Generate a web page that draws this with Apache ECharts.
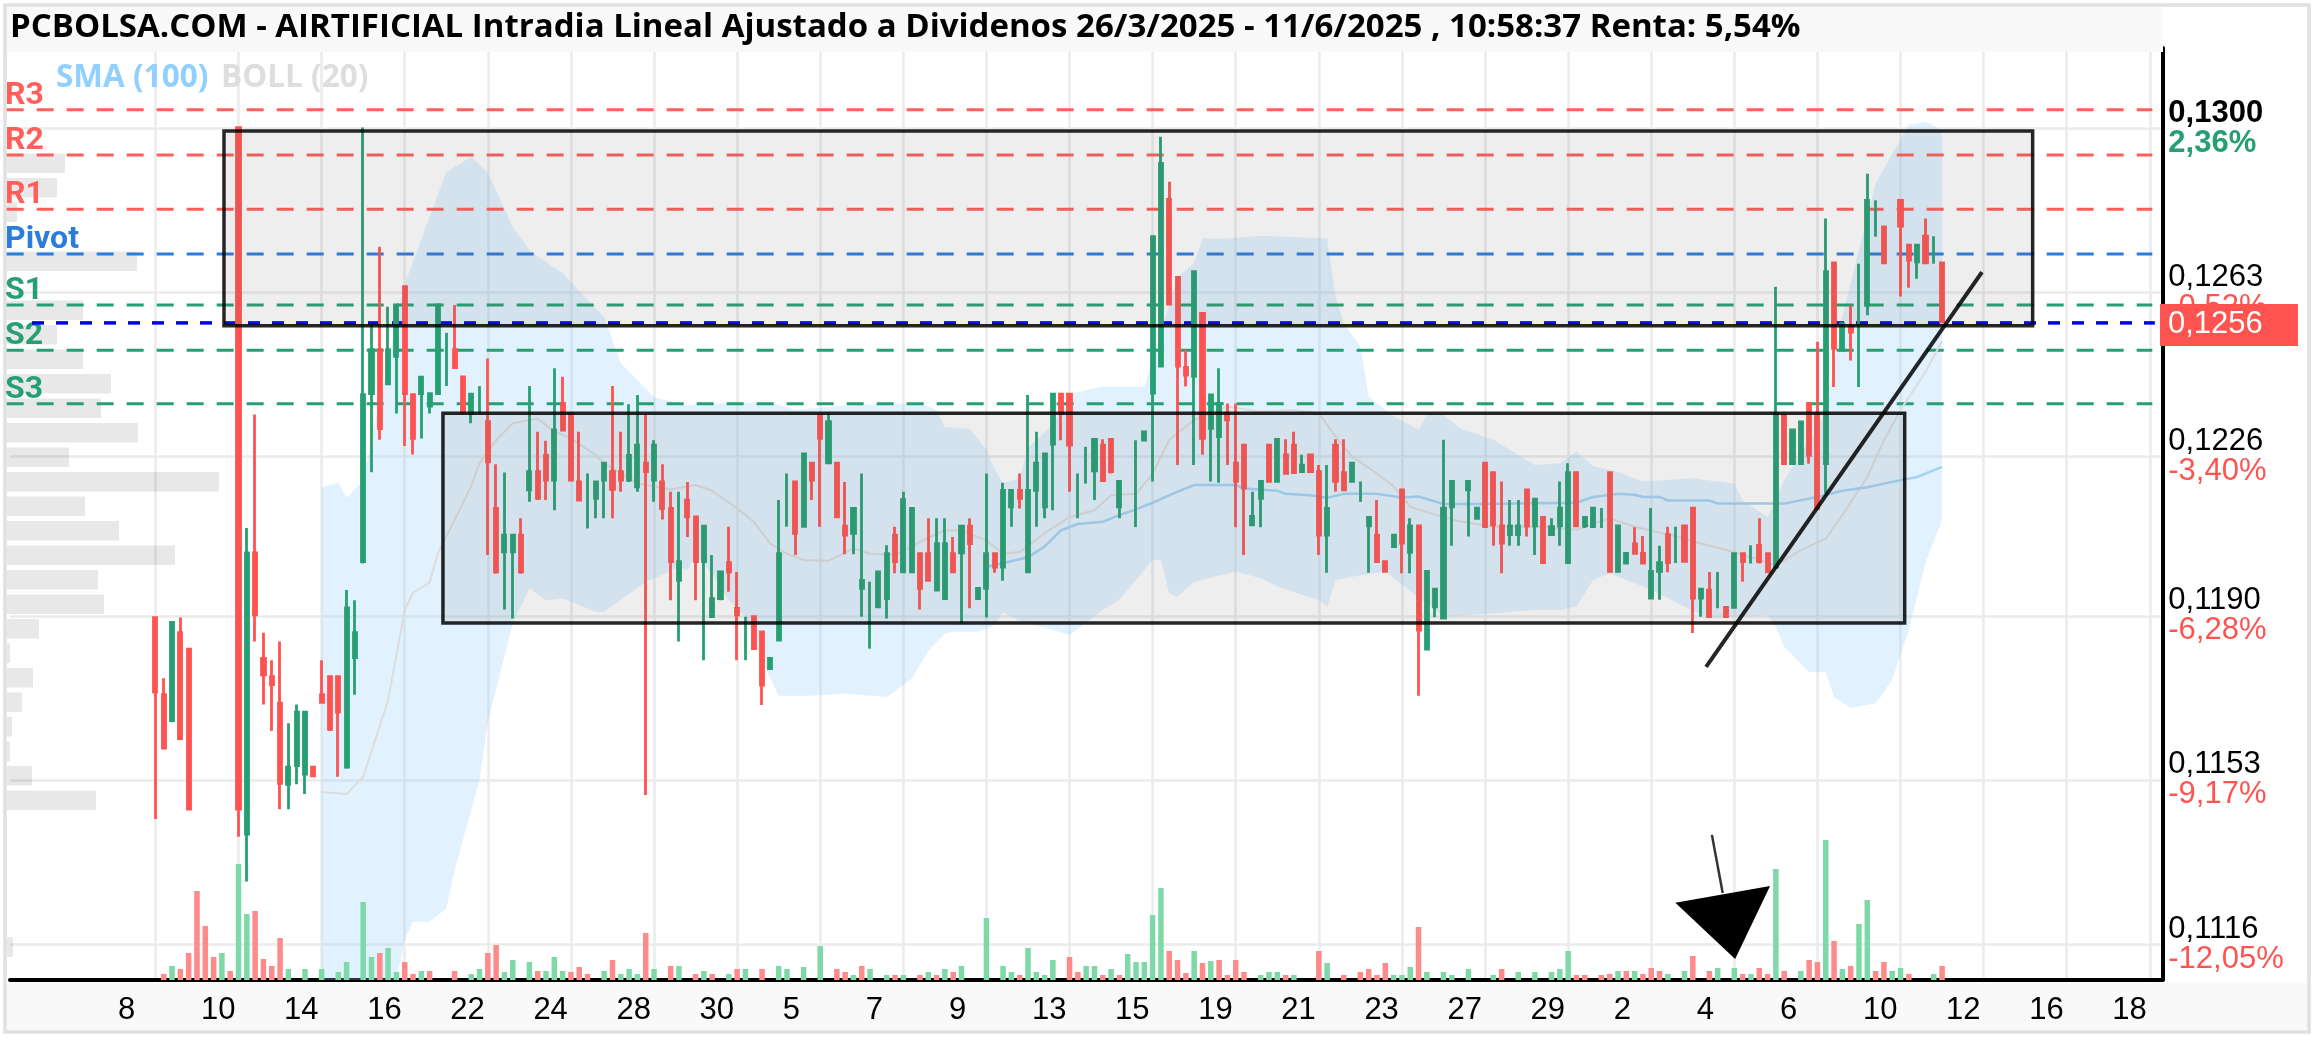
<!DOCTYPE html>
<html>
<head>
<meta charset="utf-8">
<title>AIRTIFICIAL</title>
<script src="https://cdn.jsdelivr.net/npm/echarts@6/dist/echarts.min.js"></script>
<style>
html,body{margin:0;padding:0;background:#fff;}
#main{width:2315px;height:1040px;}
</style>
</head>
<body>
<div id="main"></div>
<script>
// precios en diezmilesimas (1263 = 0,1263)
var slotCount = 259;
var dayLabels = ['8','10','14','16','22','24','28','30','5','7','9','13','15','19','21','23','27','29','2','4','6','10','12','16','18'];

var priceTicks = [1300,1263,1226,1190,1153,1116];
var priceLabels = ['0,1300','0,1263','0,1226','0,1190','0,1153','0,1116'];
var pctLabels = ['2,36%','-0,52%','-3,40%','-6,28%','-9,17%','-12,05%'];
var lastPrice = 1255.6;
var lastPriceLabel = '0,1256';

var candleSlots = [17,18,19,20,21,
27,28,29,30,31,32,33,34,35,36,
37,38,39,40,41,42,43,44,45,46,
47,48,49,50,51,52,53,54,55,56,
57,58,59,60,61,62,63,64,65,66,
67,68,69,70,71,72,73,74,75,76,
77,78,79,80,81,82,83,84,85,86,
87,88,89,90,91,92,93,94,95,96,
97,98,99,100,101,102,103,104,105,106,
107,108,109,110,111,112,113,114,115,116,
117,118,119,120,121,122,123,124,125,126,
127,128,129,130,131,132,133,135,136,137,
138,139,140,141,142,143,144,145,146,147,
148,149,150,151,152,153,154,155,156,157,
158,159,160,161,162,163,164,165,166,167,
168,169,170,171,172,173,175,176,177,178,
179,180,181,182,183,184,185,186,187,188,
189,190,191,192,193,194,195,196,197,198,
199,200,201,202,203,204,205,206,207,208,
209,210,211,212,213,214,215,216,217,218,
219,220,221,222,223,224,225,227,228,229,
230,231,232];
var opens = [1189.6,1172.2,1166.4,1186.2,1182.5,
1300.1,1140.8,1204.2,1180.4,1176.3,1170.3,1152,1156.2,1154.3,1155.9,
1172.2,1176.3,1176.3,1155.9,1180.6,1202.2,1240.1,1250,1242.3,1248.5,
1264.2,1239.9,1240.1,1237.3,1240.1,1247,1250,1243.9,1235.6,1238,
1233.8,1214.2,1204.4,1204.4,1208.2,1218.4,1222.5,1226.2,1220.6,1237.9,
1235.6,1220.2,1216,1216.5,1220.6,1222.5,1222.5,1220.6,1219.1,1224.4,
1220.6,1220.2,1214.2,1198,1216.1,1212.3,1202.2,1189.8,1193.9,1202,
1191.7,1185,1189.8,1186.4,1178.1,1184.5,1215,1220.2,1210.2,1224.4,
1235.3,1224.5,1224.4,1210.2,1208.6,1196.2,1190,1192,1193.9,1208.2,
1199.9,1199.9,1204,1204,1195.8,1193.9,1204,1204.2,1210.2,1193.9,
1196.2,1204,1201,1214.6,1218.3,1199.9,1218.3,1214.6,1228.7,1240,
1240,1216,1224,1222.7,1228.5,1229.8,1214.6,1220,1229.6,1240.2,
1246.3,1283.9,1266.3,1246,1244,1258.2,1232.3,1230.4,1235.7,1224.4,
1228.5,1210.5,1216.5,1228.5,1220.3,1226.3,1228.5,1222.5,1226.3,1222.5,
1208.2,1228.5,1222.3,1220.3,1218,1210.3,1208.2,1202.2,1205.6,1218.4,
1204.3,1210.3,1182.5,1192,1189.5,1214.6,1218.4,1212,1224.4,1222.3,
1210.3,1208.3,1208.3,1218.4,1210.3,1212.2,1208.3,1210.3,1202,1222.3,
1210.3,1210.1,1212,1222.3,1200,1201.9,1206.2,1204.1,1194,1200,
1208.3,1206,1210.3,1214.3,1194,1195.8,1195,1191.9,1191.9,1204,
1203.5,1205.9,1204,1201,1235.2,1224.3,1224.3,1237.9,1235.6,1224.3,
1269.6,1249.9,1255.2,1255,1260,1279,1277.7,1283.7,1273.6,1269.8,
1275.6,1272,1269.6];
var closes = [1172.8,1160.2,1188.5,1162.3,1146.4,
1146.4,1204.2,1190.2,1176.7,1174.5,1152.2,1155.9,1168.3,1168.3,1153.9,
1170.5,1164.4,1168.3,1191.8,1186.2,1239.9,1250,1232.2,1250,1260.1,
1240.1,1230,1243.8,1240.1,1260.1,1247.1,1246,1236,1240,1238.1,
1224.7,1199.9,1208.2,1208.2,1199.9,1222.5,1216.5,1220.6,1231.9,1231.9,
1220.6,1216.1,1216.1,1220.2,1224.4,1218.5,1220.6,1226.2,1228.5,1222.5,
1228.5,1214.2,1202.2,1202.2,1212.3,1202.2,1210.2,1193.9,1199.9,1199.9,
1190.2,1185.1,1182.6,1174.4,1180.4,1204,1215.1,1208.6,1226.5,1220.6,
1230,1233.8,1212.3,1208.2,1214.2,1198,1190.1,1199.9,1204,1202.2,
1216.2,1214.2,1196.2,1198,1206.3,1206.3,1199.9,1210.2,1206.3,1196.2,
1204,1201,1218.3,1218.3,1216.5,1218.3,1224.4,1226.5,1240,1235.6,
1228.5,1216.1,1224.1,1229.8,1220.5,1222.5,1220.3,1220.1,1231.5,1275.5,
1292,1260.3,1246.3,1244.3,1267.6,1230,1239.8,1237.9,1234.2,1220.3,
1218.8,1212.4,1220.3,1220.3,1229.8,1222.1,1222.3,1224,1222.5,1208.2,
1214.2,1220.3,1218.4,1224.4,1218.1,1212.2,1202.2,1200,1208.2,1206.4,
1210.3,1186.8,1200,1196,1214.3,1220.3,1220.3,1214.3,1210.1,1210.5,
1206.4,1210.3,1210.3,1210.3,1216.3,1202,1210.1,1214.3,1222.3,1210.3,
1212.2,1214.3,1212.1,1200,1210.3,1204.1,1204.1,1201.9,1200,1202,
1202,1206.1,1202.3,1194,1196,1189.8,1195.1,1189.8,1204,1202.2,
1203.6,1202.2,1199.9,1235.6,1224.3,1231.9,1233.7,1226.2,1214.2,1267.6,
1250.3,1255.9,1254,1255.1,1283.7,1279.1,1269.6,1277.9,1270.2,1273.6,
1269.6,1272.1,1256.3];
var lows = [1144.2,1159.9,1166,1162,1146.2,
1140.2,1130.1,1184.2,1170,1164,1146.4,1146.4,1152,1149.8,1153.9,
1170.5,1164,1153.7,1155.5,1172.2,1201.8,1222.4,1229.7,1242,1235.6,
1228.3,1226.4,1230,1235.6,1240,1241.8,1245.8,1235.6,1233.4,1235.6,
1203.7,1199.5,1191.4,1189.4,1199.5,1215.7,1216.1,1216.1,1213.8,1231.7,
1220.6,1216.1,1209.7,1212,1212,1212,1218,1220.2,1218,1149.6,
1215.7,1211.7,1193.5,1184.2,1207.8,1193.5,1180,1189.7,1193.5,1195.4,
1180,1180,1182.5,1169.9,1178,1184.5,1210.1,1203.7,1210,1216.1,
1210.1,1224.4,1212,1203.9,1203.9,1189.8,1182.6,1191.8,1189.4,1199.6,
1199.7,1199.7,1191.4,1197.8,1195.6,1193.7,1199.7,1188.3,1191.7,1193.7,
1189.6,1199.7,1197.9,1210.1,1214.2,1199.7,1210.1,1212,1213.8,1229.6,
1218,1212,1219.8,1216.1,1220.3,1222.1,1212,1210,1229.4,1220.3,
1246,1260,1224,1241.7,1224,1226.3,1220.3,1220,1224,1210,
1203.7,1210.2,1210,1220.1,1220.1,1222,1222.1,1222.3,1222.3,1203.7,
1199.7,1218,1218.2,1220.1,1215.7,1199.7,1202,1199.8,1205.4,1199.6,
1199.6,1172,1182.3,1189.7,1189.3,1205.8,1207.9,1211.8,1209.9,1205.8,
1199.6,1205.8,1205.8,1207.9,1203.7,1201.8,1208,1205.8,1201.8,1210.1,
1209.8,1209.9,1209.8,1199.8,1199.8,1201.7,1204,1201.7,1193.8,1193.6,
1199.8,1201.9,1202.1,1186.1,1189.8,1189.6,1191.7,1189.6,1191.7,1197.7,
1201.8,1201.8,1199.7,1200.8,1224,1224,1224,1224.3,1214,1217.6,
1241.6,1249.7,1247.6,1241.6,1257.8,1275.5,1269.4,1262,1264,1266,
1269.4,1269.4,1256.1];
var highs = [1189.6,1175.9,1188.5,1189.6,1182.5,
1300.1,1209.8,1235.4,1186.2,1180,1184.2,1165.8,1170,1168.3,1155.9,
1180,1176.3,1176.3,1195.8,1193.5,1300.1,1255.8,1273.2,1259.7,1260.1,
1264.2,1239.9,1243.8,1240.1,1260.1,1253.8,1260.1,1243.9,1240,1241.8,
1248,1224.2,1222.3,1208.2,1212,1241.8,1231.5,1229.5,1245.8,1243.9,
1235.6,1231.5,1222.1,1220.2,1224.4,1241.8,1231.5,1237.7,1239.8,1235.6,
1229.6,1224.2,1218,1218,1220.2,1212.3,1210.2,1203.7,1199.9,1210.1,
1199.9,1189.8,1189.8,1186.4,1180.4,1216.1,1222.1,1220.2,1226.5,1224.4,
1235.6,1235.6,1224.4,1220.2,1214.2,1222.1,1197.7,1199.9,1205.9,1210.1,
1218,1214.2,1204,1212,1212,1212,1207.8,1210.2,1212,1196.2,
1222.1,1204,1220,1218.3,1222.1,1239.8,1231.5,1226.5,1240,1240,
1240,1222.1,1228.1,1229.8,1229.8,1229.8,1220.3,1229.6,1231.7,1275.5,
1298,1287.9,1266.3,1250,1267.6,1258.2,1239.8,1245.8,1237.9,1237.9,
1228.5,1218,1220.3,1228.5,1229.8,1229.8,1231.5,1226.3,1226.3,1224,
1224,1229.8,1229.8,1224.4,1220.3,1212.2,1216.1,1202.2,1208.3,1218.4,
1212,1210.3,1200,1196,1229.7,1220.3,1220.3,1214.3,1224.4,1222.3,
1220.3,1216.1,1216.1,1218.4,1216.3,1212.2,1212,1220.3,1224.4,1222.3,
1212.2,1214.3,1214.3,1222.3,1210.3,1204.1,1210,1208,1214.3,1205.8,
1210.1,1210.1,1210.3,1214.3,1196,1199.9,1199.9,1191.9,1204,1204,
1205.9,1212,1204,1264.2,1235.2,1231.9,1233.7,1237.9,1251.8,1279.6,
1269.6,1255.9,1260,1269.4,1289.7,1283.7,1277.7,1283.7,1273.6,1273.6,
1279.6,1275.6,1269.6];

// volumen, en unidades de lectura del grafico
var volUpSlots = [19,25,27,28,33,35,37,39,40,42,43,45,46,49,55,56,59,60,62,64,65,66,71,73,74,75,77,80,83,86,88,92,93,95,97,101,103,105,107,110,112,114,117,119,120,122,123,124,125,129,130,132,134,135,136,137,138,142,144,150,151,152,154,158,166,167,168,170,172,173,175,178,181,183,185,186,187,193,195,199,201,205,207,209,212,215,218,220,222,223,226,227,231];
var volUp = [14,27,116,66,11,11,11,8,18,78,23,32,8,9,6,11,8,20,18,9,23,9,9,6,11,6,11,14,9,6,11,14,11,13,34,5,11,5,5,8,11,14,62,14,8,32,8,5,20,14,14,11,26,18,18,65,92,29,19,5,8,8,5,17,5,5,13,8,8,5,11,5,8,8,8,11,29,9,9,6,9,12,12,6,111,9,140,11,56,80,9,12,6];
var volDownSlots = [18,20,21,22,23,24,26,29,30,31,32,44,47,48,50,53,57,58,63,67,68,69,72,76,79,82,84,87,90,99,100,102,106,109,111,113,121,127,128,131,133,139,140,141,143,145,146,147,148,153,157,160,162,163,164,165,169,179,188,189,191,192,194,196,197,198,202,204,208,210,211,213,216,217,219,221,224,225,228,232];
var volDown = [6,11,27,89,54,23,9,69,21,14,42,27,18,6,9,9,27,35,9,8,13,6,20,47,14,6,6,11,11,11,8,14,5,5,5,8,5,23,8,5,5,29,20,7,17,20,5,20,8,5,29,5,8,11,5,17,53,11,5,5,5,6,9,6,12,9,24,9,6,12,6,9,20,18,39,14,9,18,6,14];

// medias
var smaSlots = [117,122,124,126,128,131,133,135,137,140,142,147,148,152,153,156,158,160,164,167,169,172,176,188,190,193,195,196,198,199,204,205,213,217,220,223,226,229,232];
var sma = [1201,1203.2,1205.6,1209.3,1210.7,1211.2,1212.7,1214,1215.5,1218,1219.5,1219.5,1218.7,1218.2,1217.5,1217.2,1216.6,1217.5,1217.5,1216.7,1216.9,1215.2,1215.2,1215.5,1216.8,1217.5,1217.3,1216.8,1216.8,1216,1216,1215.3,1215.3,1216.8,1218.2,1219,1220.2,1221.3,1223.6];
var bollSlots = [37,40,42,45,47,48,50,51,54,55,56,58,60,63,65,67,70,71,75,79,82,84,87,89,91,93,95,98,101,103,106,109,112,114,117,119,121,124,127,130,132,135,137,139,142,146,150,154,157,159,161,164,166,168,171,174,178,184,188,192,195,200,204,207,212,215,218,220,223,225,227,230,232];
var boll = [1150.3,1149.8,1153.7,1171,1191.3,1195.2,1197.5,1204.2,1215.4,1219.3,1224.4,1229.6,1233.4,1234.5,1231.5,1230,1226.2,1224.4,1219.9,1218.5,1219.5,1218.2,1214.2,1211.2,1206.3,1204,1202.6,1202.4,1205.2,1204,1203.7,1206.7,1209.3,1209.3,1207,1204,1204.4,1208.6,1212.3,1213.8,1217.2,1217.5,1222,1229.7,1234.2,1237.2,1236,1236.4,1235.7,1230.4,1225.9,1222.1,1219.2,1214.6,1212.8,1211.3,1210.1,1210.1,1209.4,1212,1210.1,1207.9,1205.8,1204.4,1201.4,1204.8,1207.4,1212.7,1221.3,1229.6,1236.4,1245,1252];
var bandUpSlots = [37,39,40,42,47,51,52,55,57,60,62,64,66,69,71,73,77,81,86,91,94,100,109,111,112,115,117,118,119,121,122,125,127,131,136,138,140,142,143,146,150,158,159,160,162,163,166,169,170,172,174,178,180,183,186,188,190,193,196,202,207,208,211,213,218,220,222,224,226,227,228,230,231,232];
var bandUp = [1219,1220,1216.6,1220.6,1264.8,1285,1290,1293.5,1289.9,1277.7,1272.5,1269.8,1267.3,1261.2,1257.4,1247,1239.3,1237.5,1238,1238.2,1236.4,1237.5,1238,1236.4,1232.6,1232.2,1227.4,1222.9,1220,1221,1228,1233,1240,1241.7,1241.7,1253.8,1266.3,1269.5,1275.1,1275.1,1275.7,1275.1,1262,1256,1250.7,1239.4,1235,1232,1235.3,1235.3,1232.3,1229.7,1227.4,1224,1224.4,1227,1223.7,1222.5,1220.3,1221,1219.8,1216,1212.3,1220.6,1235.6,1257.4,1272.5,1287.5,1294.2,1297.3,1300.7,1301.4,1300.5,1299.5];
var bandLowSlots = [37,46,47,48,50,52,53,56,57,60,62,64,66,70,71,74,76,78,80,81,82,84,86,88,90,92,96,100,105,108,110,112,113,116,118,119,121,125,127,131,133,137,138,139,140,142,147,150,152,157,158,159,161,165,172,178,183,186,188,190,192,197,201,204,208,211,212,213,216,218,219,221,224,226,228,230,232];
var bandLow = [1107.9,1107.9,1116.9,1121,1121,1124,1132.7,1153,1166,1188.3,1196.2,1193.5,1193.9,1190.9,1190.9,1195,1197.7,1199.2,1201,1200.3,1203.7,1199.6,1193.5,1189.8,1180,1172,1172,1172.5,1171.7,1175.8,1182,1186,1186.4,1186.4,1187.9,1190.9,1188.7,1186.8,1185.6,1191.3,1193.6,1202.6,1202.6,1195,1194.3,1197.7,1200,1198.5,1196.6,1193.5,1192,1198,1198.8,1200,1189.8,1190.6,1191.3,1191.3,1192.1,1198.1,1199.6,1195.9,1192.1,1189.5,1189.8,1190.2,1187.5,1183,1177.3,1177.3,1171.7,1169.2,1170.3,1175.5,1186.8,1201.9,1211.6];

// niveles pivot
var levelNames = ['R3','R2','R1','Pivot','S1','S2','S3'];
var levelPrices = [1304.1,1293.9,1281.7,1271.6,1260.1,1249.9,1237.8];
var levelColors = ['#ff5f5b','#ff5f5b','#ff5f5b','#2b7ddb','#26a073','#26a073','#26a073'];

// perfil de volumen por precio, de arriba abajo
var profile = [58,50,10,0,130,0,76,50,76,104,94,131,62,212,78,112,168,91,97,32,3,26,15,5,3,25,89,0,0,0,0,0,6];

// dibujos a mano sobre el grafico [slot, precio]
var boxA = [[25.25,1299.3],[242.9,1255.4]];
var boxB = [[51.6,1235.7],[227.5,1188.4]];
var trendLine = [[203.6,1178.5],[236.8,1267.5]];
var arrowTail = [[204.3,1140.6],[205.6,1127.5]];
var arrowHead = [[199.9,1125.3],[211.3,1129.1],[207.1,1112.6]];

var titleText = 'PCBOLSA.COM - AIRTIFICIAL Intradia Lineal Ajustado a Dividenos 26/3/2025 - 11/6/2025 , 10:58:37 Renta: 5,54%';

var green = '#26a073';
var red = '#ff5350';
var axisFont = '"Liberation Sans", Arial, sans-serif';

function pairs(xs, ys){
	var out = [];
	for(var i = 0; i < xs.length; i++){ out.push([xs[i], ys[i]]); }
	return out;
}

var categories = [];
for(var s = 0; s < slotCount; s++){ categories.push(''); }
for(var d = 0; d < dayLabels.length; d++){ categories[12 + d * 10] = dayLabels[d]; }

// velas sin cuerpo visible van en su propia serie, solo mecha
var candleData = [];
var wickData = [];
for(var c = 0; c < candleSlots.length; c++){
	var row = [candleSlots[c], opens[c], closes[c], lows[c], highs[c]];
	if(Math.abs(opens[c] - closes[c]) < 0.5){
		wickData.push(row);
	}else{
		candleData.push(row);
	}
}

var profileRows = profile.map(function(v, i){ return String(i); });

// custom series de una sola pasada sobre los ejes
function overlay(z, draw){
	return {
		type: 'custom',
		coordinateSystem: 'cartesian2d',
		xAxisIndex: 1,
		yAxisIndex: 0,
		z: z,
		silent: true,
		data: [[0, 1200]],
		renderItem: function(params, api){
			return {type: 'group', children: draw(api)};
		}
	};
}

function box(api, rect){
	var a = api.coord(rect[0]);
	var b = api.coord(rect[1]);
	return {
		type: 'rect',
		shape: {x: a[0], y: a[1], width: b[0] - a[0], height: b[1] - a[1]},
		style: {fill: 'rgba(100,100,100,0.11)', stroke: 'rgba(0,0,0,0.85)', lineWidth: 3.5}
	};
}

var candleStyle = {color: green, color0: red, borderColor: green, borderColor0: red, borderColorDoji: red, borderWidth: 2.8};

var myChart = echarts.init(document.getElementById('main'));
var option = {
	animation: false,
	backgroundColor: '#fff',
	grid: [
		{left: 10, top: 48, width: 2152.3, height: 932},
		{left: 7, top: 151, width: 2155, height: 808.5}
	],
	xAxis: [
		{
			type: 'category',
			gridIndex: 0,
			data: categories,
			axisLine: {onZero: false, lineStyle: {color: '#000', width: 4}},
			axisTick: {show: false},
			axisLabel: {
				interval: function(i, v){ return v !== ''; },
				align: 'left',
				margin: 15,
				padding: [0, 0, 0, 4],
				fontFamily: axisFont,
				fontSize: 31,
				color: '#000'
			},
			splitLine: {
				show: true,
				alignWithLabel: true,
				interval: function(i){ return i >= 17 && (i - 17) % 10 === 0; },
				lineStyle: {color: '#ebebeb', width: 2.5}
			}
		},
		{type: 'value', gridIndex: 0, min: -0.5, max: slotCount - 0.5, show: false, position: 'top'},
		{type: 'value', gridIndex: 1, min: 0, max: 2155, show: false}
	],
	yAxis: [
		{
			type: 'value',
			gridIndex: 0,
			position: 'right',
			min: 1107.88,
			max: 1318.04,
			axisLine: {show: true, onZero: false, lineStyle: {color: '#000', width: 4}},
			axisTick: {show: false, customValues: priceTicks},
			axisLabel: {
				customValues: priceTicks,
				margin: 6,
				formatter: function(v){
					var i = priceTicks.indexOf(v);
					if(i < 0){ return ''; }
					var top = i === 0 ? 'b' : 'p';
					var low = pctLabels[i].charAt(0) === '-' ? 'n' : 'g';
					return '{' + top + '|' + priceLabels[i] + '}\n{' + low + '|' + pctLabels[i] + '}';
				},
				rich: {
					p: {fontFamily: axisFont, fontSize: 31, color: '#000', lineHeight: 30},
					b: {fontFamily: axisFont, fontSize: 31, fontWeight: 'bold', color: '#000', lineHeight: 30},
					g: {fontFamily: axisFont, fontSize: 31, fontWeight: 'bold', color: green, lineHeight: 30},
					n: {fontFamily: axisFont, fontSize: 31, color: red, lineHeight: 30}
				}
			},
			splitLine: {show: true, lineStyle: {color: '#ebebeb', width: 2.5}}
		},
		{type: 'value', gridIndex: 0, min: 0, max: 932, show: false},
		{type: 'category', gridIndex: 1, inverse: true, data: profileRows, show: false}
	],
	graphic: [
		{type: 'rect', z: -1, shape: {x: 5, y: 5, width: 2304, height: 1027}, style: {fill: '#fff', stroke: '#e0e0e0', lineWidth: 3.5}},
		{type: 'rect', z: -1, shape: {x: 7, y: 983, width: 2300, height: 47}, style: {fill: '#f9f9f9'}},
		{type: 'rect', z: 5, shape: {x: 7, y: 7, width: 2156, height: 45}, style: {fill: '#f9f9f9'}},
		{type: 'text', z: 6, x: 10, y: 28, style: {text: titleText, fill: '#000', font: 'bold 33px "Open Sans", sans-serif', textVerticalAlign: 'middle'}},
		{type: 'text', z: 6, x: 56, y: 78, style: {text: 'SMA (100)', fill: '#90d0ff', font: 'bold 31.5px "Open Sans", sans-serif', textVerticalAlign: 'middle'}},
		{type: 'text', z: 6, x: 221, y: 78, style: {text: 'BOLL (20)', fill: '#dedede', font: 'bold 31.5px "Open Sans", sans-serif', textVerticalAlign: 'middle'}}
	],
	series: [
		{
			name: 'perfil',
			type: 'bar',
			xAxisIndex: 2,
			yAxisIndex: 2,
			z: 1,
			silent: true,
			barCategoryGap: '20%',
			itemStyle: {color: 'rgba(0,0,0,0.09)'},
			data: profile
		},
		overlay(1, function(api){
			var pts = [];
			var i;
			for(i = 0; i < bandUp.length; i++){ pts.push(api.coord([bandUpSlots[i], bandUp[i]])); }
			for(i = bandLow.length - 1; i >= 0; i--){ pts.push(api.coord([bandLowSlots[i], bandLow[i]])); }
			return [{type: 'polygon', shape: {points: pts}, style: {fill: 'rgba(144,208,250,0.27)'}}];
		}),
		overlay(2, function(api){
			var out = [];
			levelNames.forEach(function(name, i){
				var p = api.coord([-0.9, levelPrices[i]]);
				var q = api.coord([257.3, levelPrices[i]]);
				out.push({type: 'line', shape: {x1: p[0], y1: p[1], x2: q[0], y2: q[1]},
					style: {stroke: levelColors[i], lineWidth: 3, lineDash: [17, 13]}});
				out.push({type: 'text', style: {text: name, x: 5, y: p[1] - 14, fill: levelColors[i],
					font: 'bold 32px Roboto, sans-serif', textVerticalAlign: 'middle'}});
			});
			var a = api.coord([-0.5, lastPrice]);
			var b = api.coord([257.6, lastPrice]);
			out.push({type: 'line', shape: {x1: a[0] + 22, y1: a[1] - 2, x2: b[0], y2: b[1] - 2},
				style: {stroke: '#0000ee', lineWidth: 3.5, lineDash: [12, 12]}});
			return out;
		}),
		{
			name: 'volUp',
			type: 'bar',
			xAxisIndex: 0,
			yAxisIndex: 1,
			z: 2,
			silent: true,
			barWidth: 5.5,
			barGap: '-100%',
			itemStyle: {color: '#7ed9a9'},
			data: pairs(volUpSlots, volUp)
		},
		{
			name: 'volDown',
			type: 'bar',
			xAxisIndex: 0,
			yAxisIndex: 1,
			z: 2,
			silent: true,
			barWidth: 5.5,
			barGap: '-100%',
			itemStyle: {color: '#ff8a8a'},
			data: pairs(volDownSlots, volDown)
		},
		{
			name: 'BOLL',
			type: 'line',
			xAxisIndex: 1,
			yAxisIndex: 0,
			z: 2,
			silent: true,
			showSymbol: false,
			lineStyle: {color: '#dcdcdc', width: 2},
			data: pairs(bollSlots, boll)
		},
		{
			name: 'SMA',
			type: 'line',
			xAxisIndex: 1,
			yAxisIndex: 0,
			z: 2,
			silent: true,
			showSymbol: false,
			lineStyle: {color: '#a3d3f5', width: 2.5},
			data: pairs(smaSlots, sma)
		},
		{
			name: 'precio',
			type: 'candlestick',
			xAxisIndex: 0,
			yAxisIndex: 0,
			z: 3,
			silent: true,
			barWidth: 3.6,
			encode: {x: 0, y: [1, 2, 3, 4]},
			itemStyle: candleStyle,
			data: candleData
		},
		{
			name: 'mechas',
			type: 'candlestick',
			xAxisIndex: 0,
			yAxisIndex: 0,
			z: 3,
			silent: true,
			barWidth: 1,
			barMinWidth: 0,
			encode: {x: 0, y: [1, 2, 3, 4]},
			itemStyle: candleStyle,
			data: wickData
		},
		overlay(4, function(api){
			return [box(api, boxA), box(api, boxB)];
		}),
		overlay(5, function(api){
			var t0 = api.coord(trendLine[0]), t1 = api.coord(trendLine[1]);
			var a0 = api.coord(arrowTail[0]), a1 = api.coord(arrowTail[1]);
			return [
				{type: 'line', shape: {x1: t0[0], y1: t0[1], x2: t1[0], y2: t1[1]}, style: {stroke: 'rgba(0,0,0,0.85)', lineWidth: 4}},
				{type: 'line', shape: {x1: a0[0], y1: a0[1], x2: a1[0], y2: a1[1]}, style: {stroke: 'rgba(0,0,0,0.8)', lineWidth: 2.5}},
				{type: 'polygon', shape: {points: arrowHead.map(function(p){ return api.coord(p); })}, style: {fill: '#000'}}
			];
		}),
		overlay(10, function(api){
			var y = api.coord([0, lastPrice])[1];
			return [
				{type: 'rect', shape: {x: 2160, y: y - 21, width: 138, height: 42}, style: {fill: red}},
				{type: 'text', style: {text: lastPriceLabel, x: 2168, y: y, fill: '#fff', font: '31px ' + axisFont, textVerticalAlign: 'middle'}}
			];
		})
	]
};
myChart.setOption(option);
</script>
</body>
</html>
